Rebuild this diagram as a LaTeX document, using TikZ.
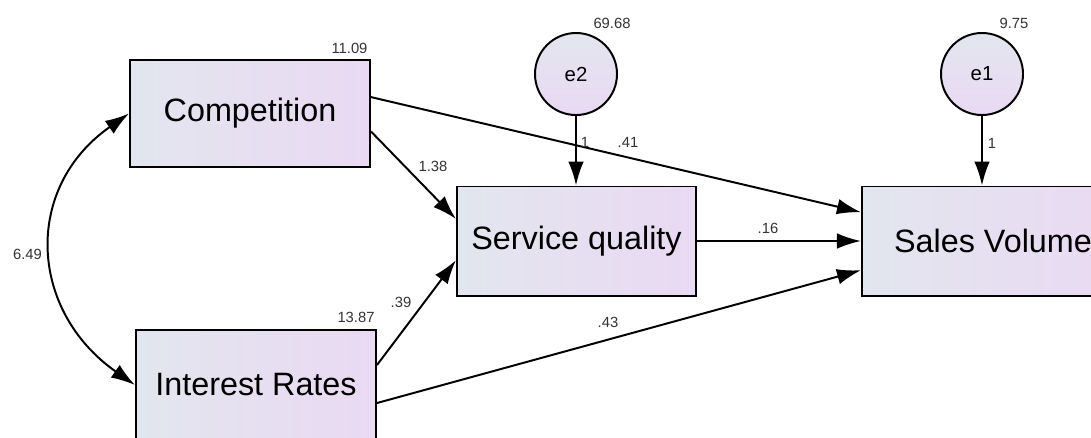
\documentclass[tikz,border=0pt]{standalone}
\usepackage{fontspec}
\setmainfont{Liberation Sans}
\usetikzlibrary{arrows.meta}

\definecolor{boxleft}{RGB}{226,230,238}
\definecolor{boxright}{RGB}{234,217,243}

\begin{document}
\begin{tikzpicture}[x=0.025cm, y=-0.025cm,
    >={Latex[length=6mm,width=3.9mm]},
    var/.style={draw, line width=1.4pt, left color=boxleft, right color=boxright,
        minimum width=6cm, minimum height=2.7cm, inner sep=0pt,
        font=\fontsize{23}{27}\selectfont},
    err/.style={draw, circle, line width=1.4pt, top color=boxleft, bottom color=boxright,
        minimum size=2.05cm, inner sep=0pt, font=\fontsize{14.5}{17}\selectfont},
    lbl/.style={inner sep=0pt, text=black!80, font=\fontsize{10.5}{12}\selectfont},
    arw/.style={line width=1.4pt, ->}]
    \clip (0,0) rectangle (1091,437);

    \node[var, minimum height=2.675cm] (comp) at (250,113.5) {Competition};
    \node[var, minimum width=5.975cm, minimum height=2.725cm] (sq) at (576.5,241) {Service quality};
    \node[var, minimum width=6.55cm, minimum height=2.725cm] (sv) at (993,241) {Sales Volume};
    \node[var, minimum height=2.75cm] (ir) at (256,385) {Interest Rates};
    \node[err] (e2) at (576,74) {e2};
    \node[err] (e1) at (982,74) {e1};

    \draw[arw] ([yshift=0.41cm]comp.east) -- ([yshift=0.72cm]sv.west);
    \draw[arw] ([yshift=-0.45cm]comp.east) -- ([yshift=0.55cm]sq.west);
    \draw[arw] ([yshift=0.5cm]ir.east) -- ([yshift=-0.48cm]sq.west);
    \draw[arw] ([yshift=-0.45cm]ir.east) -- ([yshift=-0.73cm]sv.west);
    \draw[arw] (sq.east) -- (sv.west);
    \draw[arw] (e2) -- (e2 |- sq.north);
    \draw[arw] (e1) -- (e1 |- sv.north);
    \draw[line width=1.4pt, <->] (comp.west) to[out=215, in=145, looseness=1.22] (ir.west);

    \node[lbl] (v1109) at (349.5,48) {11.09};
    \node[lbl] (v6968) at (612,23) {69.68};
    \node[lbl] (v975) at (1014,23) {9.75};
    \node[lbl] (v1387) at (356,317) {13.87};
    \node[lbl] (w1e2) at (585,142) {1};
    \node[lbl] (w1e1) at (992,143) {1};
    \node[lbl] (w41) at (628,142) {.41};
    \node[lbl] (w138) at (433,166) {1.38};
    \node[lbl] (w16) at (768,228) {.16};
    \node[lbl] (w39) at (401,302) {.39};
    \node[lbl] (w43) at (608,322) {.43};
    \node[lbl] (c649) at (27.5,254) {6.49};
\end{tikzpicture}
\end{document}
